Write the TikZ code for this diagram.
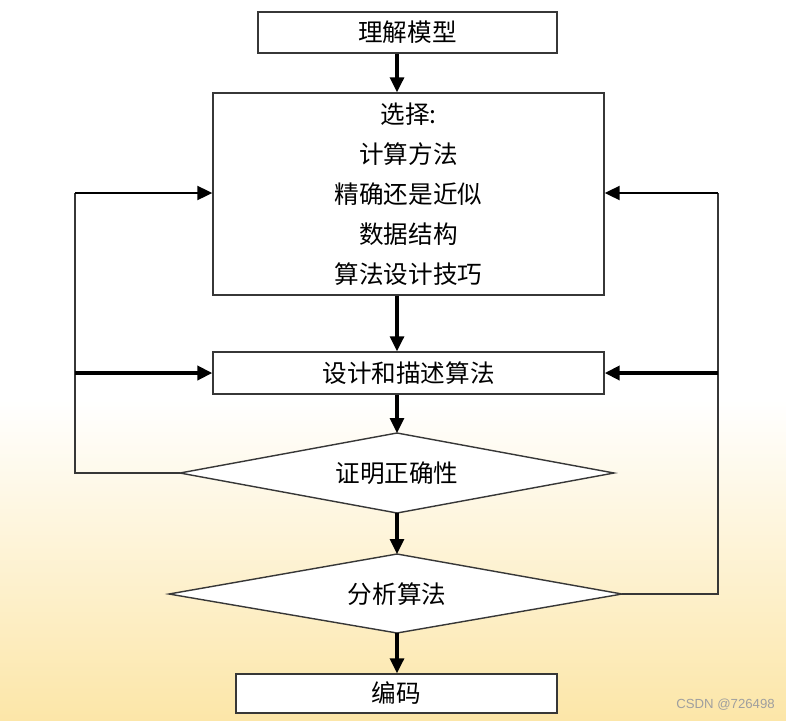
\documentclass[tikz,border=0pt]{standalone}
\usepackage{fontspec}
\newfontfamily\cjk{Noto Sans CJK SC}
\newfontfamily\markfont{Liberation Sans}
\usetikzlibrary{arrows.meta}
\definecolor{bgyellow}{RGB}{252,230,168}
\definecolor{framegray}{RGB}{55,55,55}
\tikzset{
  box/.style={draw=framegray,line width=0.8pt,fill=white,inner sep=0pt,align=center,
    font=\cjk\fontsize{14}{22.7}\selectfont},
  choice/.style={draw=framegray,line width=0.8pt,fill=white},
  label/.style={inner sep=0pt,font=\cjk\fontsize{14}{17}\selectfont},
  flow/.style={line width=1.8pt,-{Triangle[length=0.3cm,width=0.28cm]}},
  back/.style={line width=0.75pt,draw=framegray},
}

\begin{document}
\begin{tikzpicture}[x=0.02cm,y=-0.02cm]
\useasboundingbox (0,0) rectangle (786,720);
\fill[white] (0,0) rectangle (786,400);
\shade[top color=white,bottom color=bgyellow] (0,400) rectangle (786,720);

\node[box,minimum width=5.98cm,minimum height=0.82cm] (model) at (407.5,32.5) {理解模型};
\node[box,minimum width=7.82cm,minimum height=4.04cm] (choose) at (408.5,194)
  {选择:\\计算方法\\精确还是近似\\数据结构\\算法设计技巧};
\node[box,minimum width=7.82cm,minimum height=0.84cm] (design) at (408.5,373) {设计和描述算法};

\draw[choice] (180,473) coordinate (prove w) -- (397,433) coordinate (prove n)
  -- (614,473) coordinate (prove e) -- (397,513) coordinate (prove s) -- cycle;
\node[label] (prove) at (397,473) {证明正确性};
\draw[choice] (169,594) coordinate (analyse w) -- (397,554) coordinate (analyse n)
  -- (622,594) coordinate (analyse e) -- (397,633) coordinate (analyse s) -- cycle;
\node[label] (analyse) at (397,594) {分析算法};

\node[box,minimum width=6.42cm,minimum height=0.78cm] (code) at (396.5,693.5) {编码};

\coordinate (spine) at (397,0);
\draw[flow] (model.south -| spine) -- (choose.north -| spine);
\draw[flow] (choose.south -| spine) -- (design.north -| spine);
\draw[flow] (design.south -| spine) -- (prove n);
\draw[flow] (prove s) -- (analyse n);
\draw[flow] (analyse s) -- (code.north -| spine);

\coordinate (lback) at (75,193);
\coordinate (rback) at (718,193);
\draw[back] (prove w) -| (lback);
\draw[back] (analyse e) -| (rback);
\draw[line width=1.1pt,-{Triangle[length=0.3cm,width=0.28cm]}] (lback) -- (lback -| choose.west);
\draw[line width=1.1pt,-{Triangle[length=0.3cm,width=0.28cm]}] (rback) -- (rback -| choose.east);
\draw[line width=2.3pt,-{Triangle[length=0.3cm,width=0.28cm]}] (lback |- design) -- (design.west);
\draw[line width=2.3pt,-{Triangle[length=0.3cm,width=0.28cm]}] (rback |- design) -- (design.east);

\node[text=gray!75,font=\markfont\fontsize{7.5}{9}\selectfont] (mark) at (725.5,705) {CSDN @726498};
\end{tikzpicture}
\end{document}
